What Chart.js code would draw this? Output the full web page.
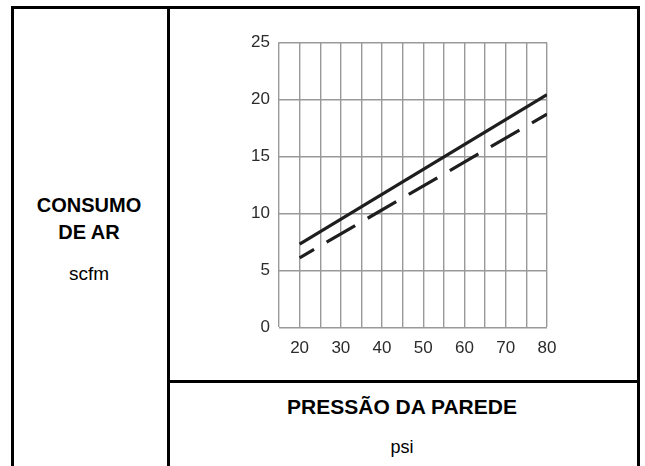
<!DOCTYPE html>
<html>
<head>
<meta charset="utf-8">
<script src="https://cdn.jsdelivr.net/npm/chart.js@4/dist/chart.umd.min.js"></script>
<style>
  html, body { margin: 0; padding: 0; background: #fff; }
  body { width: 645px; height: 466px; position: relative; overflow: hidden; font-family: 'Liberation Sans', Arial, sans-serif; color: #000; }
  .ln { position: absolute; background: #000; }
  .txt { position: absolute; text-align: center; white-space: nowrap; }
  #wrap { position: absolute; left: 200px; top: 20px; width: 380px; height: 350px; }
</style>
</head>
<body>
<!-- moldura da tabela -->
<div class="ln" style="left:11px; top:6px; width:629px; height:3px;"></div>
<div class="ln" style="left:11px; top:6px; width:3px; height:460px;"></div>
<div class="ln" style="left:167px; top:6px; width:3px; height:460px;"></div>
<div class="ln" style="left:637px; top:6px; width:3px; height:460px;"></div>
<div class="ln" style="left:167px; top:380px; width:473px; height:3px;"></div>

<div class="txt" style="left:12px; width:154px; top:195.4px; font-size:20px; line-height:20px; font-weight:bold;">CONSUMO</div>
<div class="txt" style="left:12px; width:154px; top:222.4px; font-size:20px; line-height:20px; font-weight:bold;">DE AR</div>
<div class="txt" style="left:12px; width:154px; top:263.9px; font-size:19px; line-height:19px;">scfm</div>

<div class="txt" style="left:168px; width:468px; top:395.5px; font-size:21px; line-height:21px; font-weight:bold;">PRESSÃO DA PAREDE</div>
<div class="txt" style="left:168px; width:468px; top:437.5px; font-size:18px; line-height:18px;">psi</div>

<div id="wrap"><canvas id="grafico" width="380" height="350"></canvas></div>

<script>
// ── Consumo de ar x pressão da parede ──
const pressao = [20, 80];            // psi
const consumoCheio = [7.3, 20.4];    // linha contínua (scfm)
const consumoTracejado = [6.1, 18.7]; // linha tracejada (scfm)
const xTickLabels = [20, 30, 40, 50, 60, 70, 80];
const yTickLabels = [0, 5, 10, 15, 20, 25];

const pts = (ys) => pressao.map((x, i) => ({ x: x, y: ys[i] }));

const fonteEixo = { family: "'Liberation Sans', Arial, sans-serif", size: 17 };
const grade = { color: '#999', lineWidth: 1.4, drawTicks: false };

new Chart(document.getElementById('grafico').getContext('2d'), {
  type: 'line',
  data: {
    datasets: [
      {
        data: pts(consumoCheio),
        borderColor: '#1e1e1e',
        borderWidth: 3.2,
        borderCapStyle: 'butt',
        pointRadius: 0,
        tension: 0,
        fill: false,
      },
      {
        data: pts(consumoTracejado),
        borderColor: '#1e1e1e',
        borderWidth: 3.2,
        borderCapStyle: 'butt',
        borderDash: [33, 14.5],
        borderDashOffset: 16.3,
        pointRadius: 0,
        tension: 0,
        fill: false,
      },
    ],
  },
  options: {
    responsive: false,
    animation: false,
    layout: { padding: { left: 0, right: 33, top: 22.3, bottom: 0 } },
    plugins: { legend: { display: false }, tooltip: { enabled: false } },
    scales: {
      x: {
        type: 'linear',
        min: 15,
        max: 80,
        border: { display: false },
        grid: grade,
        afterFit: (s) => { s.height = 42.7; },
        ticks: {
          stepSize: 5,
          autoSkip: false,
          maxRotation: 0,
          minRotation: 0,
          padding: 11,
          color: '#2b2b2b',
          font: fonteEixo,
          callback: (v) => (xTickLabels.includes(v) ? String(v) : ''),
        },
      },
      y: {
        min: 0,
        max: 25,
        border: { display: false },
        grid: grade,
        afterFit: (s) => { s.width = 79; },
        ticks: {
          stepSize: 5,
          padding: 9,
          color: '#2b2b2b',
          font: fonteEixo,
          callback: (v) => (yTickLabels.includes(v) ? String(v) : ''),
        },
      },
    },
  },
});
</script>
</body>
</html>
